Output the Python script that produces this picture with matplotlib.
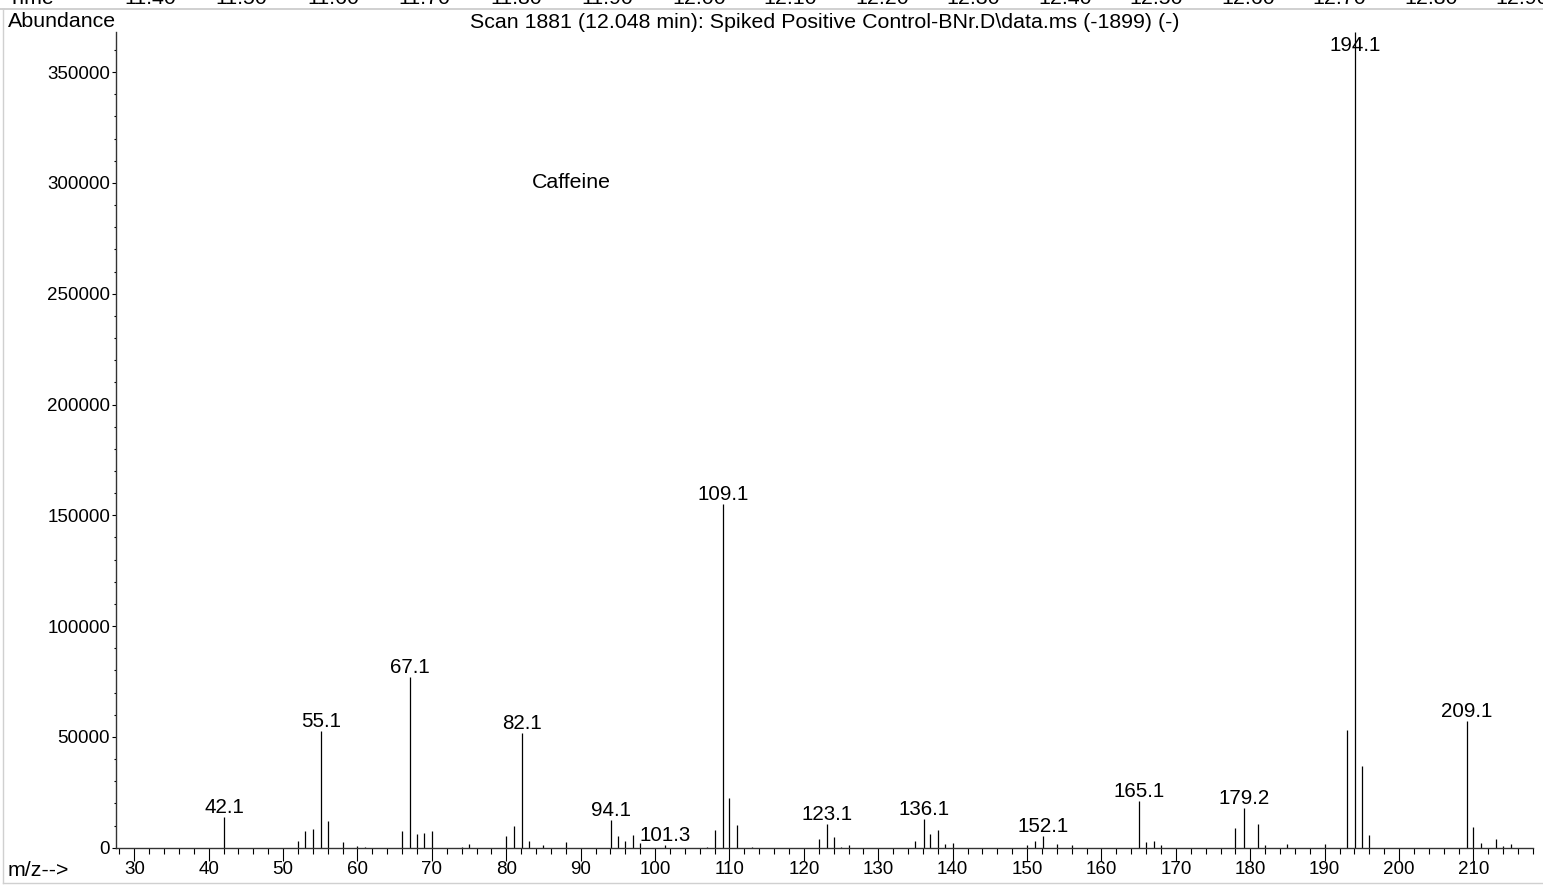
import matplotlib
matplotlib.use('Agg')
import matplotlib.pyplot as plt
from matplotlib.ticker import MultipleLocator, FuncFormatter
from matplotlib.lines import Line2D

plt.rcParams['font.family'] = ['Liberation Sans', 'DejaVu Sans']

# ---- data ----
mz = [42.1, 52, 53, 54, 55.1, 56, 58, 60, 61, 66, 67.1, 68, 69, 70, 74, 75,
      80, 81, 82.1, 83, 85, 88, 94.1, 95, 96, 97, 98, 101.3, 107, 108, 109.1,
      110, 111, 113, 122, 123.1, 124, 125, 126, 135, 136.1, 137, 138, 139, 140,
      150, 151, 152.1, 154, 156, 165.1, 166, 167, 168, 178, 179.2, 181, 182,
      185, 190, 193, 194.1, 195, 196, 209.1, 210, 211, 213, 214, 215]
abundance = [13700, 2900, 7700, 8600, 52800, 11900, 2400, 750, 450, 7400, 76900,
             6200, 6600, 7400, 450, 1650, 5300, 9900, 51600, 2900, 1350, 2400,
             12400, 5100, 3000, 5900, 2100, 1050, 450, 8100, 155000, 22600, 10100,
             450, 3800, 10700, 4800, 450, 1350, 3000, 12900, 6000, 8000, 1500,
             2000, 1200, 3000, 5300, 1500, 1200, 21200, 2700, 3000, 1200, 8700,
             17800, 10700, 1200, 1650, 1650, 53100, 368000, 36900, 5700, 57300,
             9200, 2250, 3800, 900, 1800]
labeled_mz = [42.1, 55.1, 67.1, 82.1, 94.1, 101.3, 109.1, 123.1, 136.1, 152.1,
              165.1, 179.2, 194.1, 209.1]
time_labels = ['11.40', '11.50', '11.60', '11.70', '11.80', '11.90', '12.00',
               '12.10', '12.20', '12.30', '12.40', '12.50', '12.60', '12.70',
               '12.80', '12.90']
title = r"Scan 1881 (12.048 min): Spiked Positive Control-BNr.D\data.ms (-1899) (-)"
compound = "Caffeine"

FS_TICK = 13.5
FS_PEAK = 14.8
FS_TEXT = 15.4
W_PX, H_PX = 1543, 888
fig = plt.figure(figsize=(W_PX / 100, H_PX / 100), dpi=100)

left, right, top, bottom = 115.7, 1533, 32.3, 847.7
ax = fig.add_axes([left / W_PX, 1 - bottom / H_PX, (right - left) / W_PX, (bottom - top) / H_PX])
ax.patch.set_alpha(0)

ax.vlines(mz, 0, abundance, color='black', lw=0.9)
ax.set_xlim(27.5, 218)
ax.set_ylim(0, 368000)

for s in ['top', 'right']:
    ax.spines[s].set_visible(False)
for s in ['left', 'bottom']:
    ax.spines[s].set_color('#333333')
    ax.spines[s].set_linewidth(1.0)

ax.xaxis.set_major_locator(MultipleLocator(10))
ax.xaxis.set_minor_locator(MultipleLocator(2))
ax.yaxis.set_major_locator(MultipleLocator(50000))
ax.yaxis.set_minor_locator(MultipleLocator(10000))
ax.yaxis.set_major_formatter(FuncFormatter(lambda v, p: f"{int(round(v))}"))
ax.tick_params(axis='x', which='major', length=9, width=0.8, pad=0.5, labelsize=FS_TICK, colors='black')
ax.tick_params(axis='x', which='minor', length=4, width=0.8)
ax.tick_params(axis='y', which='major', length=3, width=0.8, pad=1, labelsize=FS_TICK)
ax.tick_params(axis='y', which='minor', length=1.5, width=0.8)

ymax = ax.get_ylim()[1]
for m, a in zip(mz, abundance):
    if m in labeled_mz:
        if a > ymax * 0.95:
            ax.annotate(f"{m:.1f}", (m, ymax), xytext=(0, -2.5), textcoords='offset points',
                        ha='center', va='top', fontsize=FS_PEAK)
        else:
            ax.annotate(f"{m:.1f}", (m, a), xytext=(0, 3), textcoords='offset points',
                        ha='center', va='baseline', fontsize=FS_PEAK)

ax.text(88.7, 300000, compound, ha='center', va='center', fontsize=FS_TEXT)

# header / footer texts
ax.set_title(title, fontsize=FS_TEXT, pad=3)
fig.text(8 / W_PX, 1 - 27 / H_PX, "Abundance", fontsize=FS_TEXT, va='baseline', ha='left')
fig.text(8 / W_PX, 1 - 876 / H_PX, "m/z-->", fontsize=FS_TEXT, va='baseline', ha='left')

# cut-off time axis strip at the top
fig.text(8 / W_PX, 1 - 3.5 / H_PX, "Time", fontsize=FS_TEXT, va='baseline', ha='left')
for i, t in enumerate(time_labels):
    fig.text((150 + i * 91.5) / W_PX, 1 - 3.5 / H_PX, t, fontsize=FS_TEXT, va='baseline', ha='center')

# light frame lines
fig.add_artist(Line2D([0, 1], [1 - 9.5 / H_PX] * 2, color='#c8c8c8', lw=1.2))
fig.add_artist(Line2D([2.5 / W_PX] * 2, [1 - 9.5 / H_PX, 1 - 883 / H_PX], color='#d0d0d0', lw=1.0))
fig.add_artist(Line2D([2.5 / W_PX, 1], [1 - 883 / H_PX] * 2, color='#d0d0d0', lw=1.0))

fig.savefig('out.png', dpi=100)
